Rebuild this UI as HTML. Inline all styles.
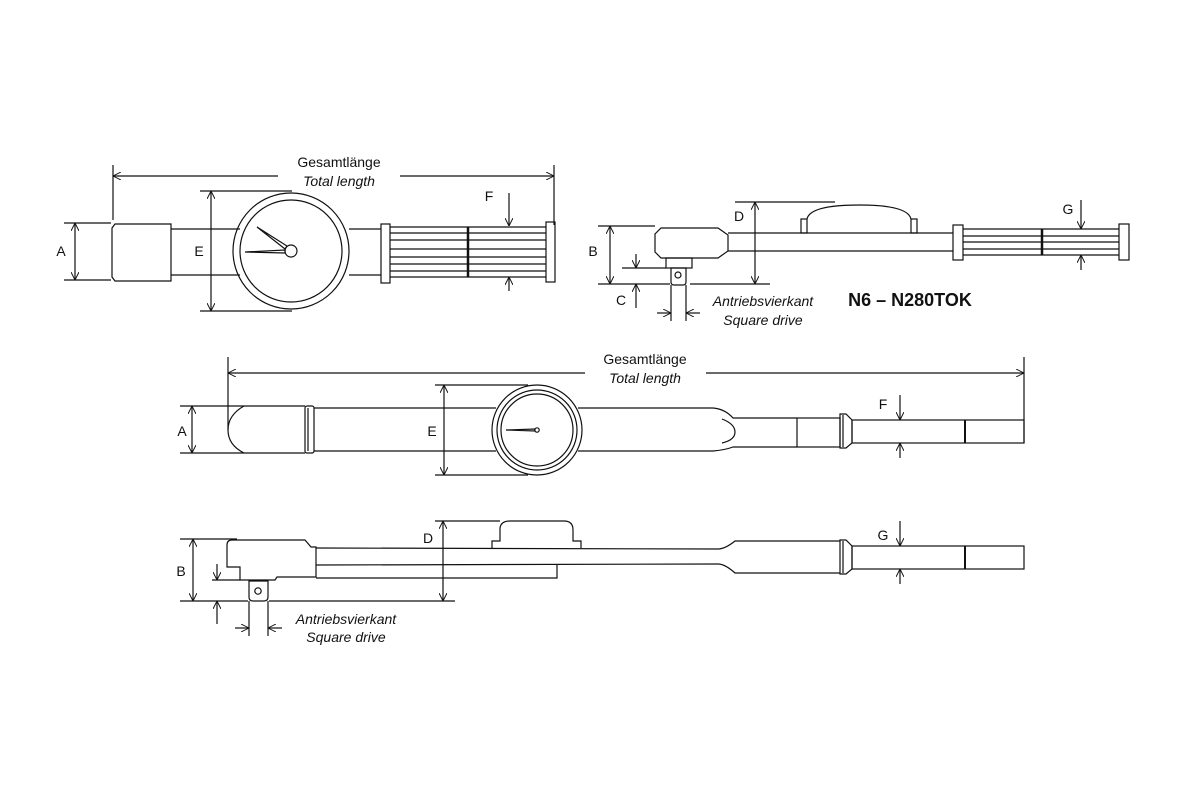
<!DOCTYPE html>
<html><head><meta charset="utf-8"><style>
html,body{margin:0;padding:0;background:#fff;width:1200px;height:800px;overflow:hidden}
svg{display:block}
text{font-family:"Liberation Sans","DejaVu Sans",sans-serif;font-size:14px;fill:#111}
.i{font-style:italic}
</style></head><body>
<svg width="1200" height="800" viewBox="0 0 1200 800" xmlns="http://www.w3.org/2000/svg">
<defs>
<marker id="a" viewBox="0 0 10 10" refX="10" refY="5" markerWidth="8" markerHeight="8" orient="auto-start-reverse" markerUnits="userSpaceOnUse">
<path d="M0,0 L10,5 L0,10" fill="none" stroke="#111" stroke-width="1.2"/></marker>
</defs>
<g fill="none" stroke="#111" stroke-width="1.2">
<!-- ===== Diagram 1 ===== -->
<line x1="113" y1="165" x2="113" y2="220"/>
<line x1="554" y1="165" x2="554" y2="225"/>
<line x1="113" y1="176" x2="278" y2="176" marker-start="url(#a)"/>
<line x1="400" y1="176" x2="554" y2="176" marker-end="url(#a)"/>
<line x1="64" y1="223" x2="111" y2="223"/><line x1="64" y1="280" x2="111" y2="280"/>
<line x1="75" y1="223" x2="75" y2="280" marker-start="url(#a)" marker-end="url(#a)"/>
<path d="M115,224 L171,224 L171,281 L115,281 L112,277 L112,228 Z"/>
<line x1="171" y1="229" x2="240" y2="229"/><line x1="171" y1="275" x2="240" y2="275"/>
<line x1="349" y1="229" x2="381" y2="229"/><line x1="349" y1="275" x2="381" y2="275"/>
<circle cx="291" cy="251" r="58"/><circle cx="291" cy="251" r="51"/>
<circle cx="291" cy="251" r="6"/>
<path d="M257,227 L287,246 L285,249 Z"/>
<path d="M245,252 L285,250 L285,253 Z"/>
<line x1="200" y1="191" x2="292" y2="191"/><line x1="200" y1="311" x2="292" y2="311"/>
<line x1="211" y1="191" x2="211" y2="311" marker-start="url(#a)" marker-end="url(#a)"/>
<rect x="381" y="224" width="9" height="59"/><rect x="546" y="222" width="9" height="60"/>
<g>
<line x1="390" y1="227" x2="546" y2="227"/><line x1="390" y1="233" x2="546" y2="233"/>
<line x1="390" y1="240" x2="546" y2="240"/><line x1="390" y1="249" x2="546" y2="249"/>
<line x1="390" y1="257" x2="546" y2="257"/><line x1="390" y1="264" x2="546" y2="264"/>
<line x1="390" y1="271" x2="546" y2="271"/><line x1="390" y1="277" x2="546" y2="277"/>
</g>
<line x1="468" y1="227" x2="468" y2="277" stroke-width="2.5"/>
<line x1="509" y1="193" x2="509" y2="226" marker-end="url(#a)"/>
<line x1="509" y1="291" x2="509" y2="277" marker-end="url(#a)"/>

<!-- ===== Diagram 2 ===== -->
<path d="M661,228 L718,228 L728,235 L728,251 L718,258 L661,258 L655,252 L655,234 Z"/>
<rect x="666" y="258" width="26" height="10"/>
<path d="M671,268 L686,268 L686,282 Q686,285 683,285 L674,285 Q671,285 671,282 Z"/>
<circle cx="678" cy="275" r="3"/>
<line x1="728" y1="233" x2="953" y2="233"/><line x1="728" y1="251" x2="953" y2="251"/>
<rect x="801" y="219" width="6" height="14"/><rect x="911" y="219" width="6" height="14"/>
<path d="M807,219 Q810,205 859,205 Q908,205 911,219"/>
<rect x="953" y="225" width="10" height="35"/><rect x="1119" y="224" width="10" height="36"/>
<line x1="963" y1="229" x2="1119" y2="229"/><line x1="963" y1="236" x2="1119" y2="236"/>
<line x1="963" y1="242" x2="1119" y2="242"/><line x1="963" y1="249" x2="1119" y2="249"/>
<line x1="963" y1="255" x2="1119" y2="255"/>
<line x1="1042" y1="229" x2="1042" y2="255" stroke-width="2.5"/>
<line x1="1081" y1="200" x2="1081" y2="229" marker-end="url(#a)"/>
<line x1="1081" y1="270" x2="1081" y2="255" marker-end="url(#a)"/>
<line x1="598" y1="226" x2="655" y2="226"/><line x1="598" y1="284" x2="670" y2="284"/>
<line x1="690" y1="284" x2="770" y2="284"/>
<line x1="610" y1="226" x2="610" y2="284" marker-start="url(#a)" marker-end="url(#a)"/>
<line x1="735" y1="202" x2="835" y2="202"/>
<line x1="755" y1="202" x2="755" y2="284" marker-start="url(#a)" marker-end="url(#a)"/>
<line x1="622" y1="268" x2="666" y2="268"/>
<line x1="636" y1="254" x2="636" y2="268" marker-end="url(#a)"/>
<line x1="636" y1="308" x2="636" y2="284" marker-end="url(#a)"/>
<line x1="671" y1="285" x2="671" y2="321"/><line x1="686" y1="285" x2="686" y2="321"/>
<line x1="657" y1="313" x2="671" y2="313" marker-end="url(#a)"/>
<line x1="700" y1="313" x2="686" y2="313" marker-end="url(#a)"/>

<!-- ===== Diagram 3 ===== -->
<line x1="228" y1="357" x2="228" y2="430"/>
<line x1="1024" y1="357" x2="1024" y2="443"/>
<line x1="228" y1="373" x2="585" y2="373" marker-start="url(#a)"/>
<line x1="706" y1="373" x2="1024" y2="373" marker-end="url(#a)"/>
<line x1="180" y1="406" x2="240" y2="406"/><line x1="180" y1="453" x2="240" y2="453"/>
<line x1="192" y1="406" x2="192" y2="453" marker-start="url(#a)" marker-end="url(#a)"/>
<path d="M244,406 Q228,415 228,430 Q228,445 244,453"/>
<line x1="240" y1="406" x2="305" y2="406"/><line x1="240" y1="453" x2="305" y2="453"/>
<rect x="305" y="406" width="9" height="47" rx="2"/>
<line x1="308" y1="408" x2="308" y2="451"/>
<line x1="314" y1="408" x2="496" y2="408"/><line x1="314" y1="451" x2="496" y2="451"/>
<line x1="578" y1="408" x2="713" y2="408"/><line x1="578" y1="451" x2="713" y2="451"/>
<path d="M713,408 Q725,409 733,418 L797,418"/>
<path d="M713,451 Q725,450 733,447 L797,447"/>
<path d="M722,419 Q735,424 735,432 Q735,440 722,443"/>
<rect x="797" y="418" width="43" height="29"/>
<path d="M840,414 L846,414 L852,420 L852,443 L846,448 L840,448 Z"/>
<line x1="843" y1="415" x2="843" y2="447"/>
<rect x="852" y="420" width="172" height="23"/>
<line x1="965" y1="420" x2="965" y2="443" stroke-width="2"/>
<circle cx="537" cy="430" r="45"/><circle cx="537" cy="430" r="40"/><circle cx="537" cy="430" r="36"/>
<path d="M506,430 L535,429 L535,431 Z"/>
<circle cx="537" cy="430" r="2.2"/>
<line x1="435" y1="385" x2="528" y2="385"/><line x1="435" y1="475" x2="528" y2="475"/>
<line x1="444" y1="385" x2="444" y2="475" marker-start="url(#a)" marker-end="url(#a)"/>
<line x1="900" y1="395" x2="900" y2="420" marker-end="url(#a)"/>
<line x1="900" y1="458" x2="900" y2="443" marker-end="url(#a)"/>

<!-- ===== Diagram 4 ===== -->
<path d="M232,540 L305,540 L311,547 L316,547 L316,577 L277,577 L275,580 L240,580 L240,567 L227,567 L227,545 Q227,540 232,540 Z"/>
<path d="M249,581 L268,581 L268,597 Q268,601 264,601 L253,601 Q249,601 249,597 Z"/>
<circle cx="258" cy="591" r="3.2"/>
<path d="M316,548 L718,549 Q725,549 735,541 L840,541"/>
<path d="M316,565 L718,564 Q725,564 735,573 L840,573"/>
<path d="M316,578 L557,578 L557,565"/>
<path d="M492,548 L492,541 L500,541 L500,528 Q501,521 510,521 L564,521 Q573,521 573,530 L573,541 L581,541 L581,548"/>
<path d="M840,540 L846,540 L852,546 L852,569 L846,574 L840,574 Z"/>
<line x1="843" y1="541" x2="843" y2="573"/>
<rect x="852" y="546" width="172" height="23"/>
<line x1="965" y1="546" x2="965" y2="569" stroke-width="2"/>
<line x1="180" y1="539" x2="237" y2="539"/><line x1="180" y1="601" x2="248" y2="601"/>
<line x1="269" y1="601" x2="455" y2="601"/>
<line x1="193" y1="539" x2="193" y2="601" marker-start="url(#a)" marker-end="url(#a)"/>
<line x1="435" y1="521" x2="500" y2="521"/>
<line x1="443" y1="521" x2="443" y2="601" marker-start="url(#a)" marker-end="url(#a)"/>
<line x1="212" y1="580" x2="240" y2="580"/>
<line x1="217" y1="564" x2="217" y2="580" marker-end="url(#a)"/>
<line x1="217" y1="624" x2="217" y2="601" marker-end="url(#a)"/>
<line x1="249" y1="601" x2="249" y2="636"/><line x1="268" y1="601" x2="268" y2="636"/>
<line x1="235" y1="628" x2="249" y2="628" marker-end="url(#a)"/>
<line x1="282" y1="628" x2="268" y2="628" marker-end="url(#a)"/>
<line x1="900" y1="521" x2="900" y2="546" marker-end="url(#a)"/>
<line x1="900" y1="584" x2="900" y2="569" marker-end="url(#a)"/>
</g>
<g>
<text x="339" y="167" text-anchor="middle">Gesamtlänge</text>
<text x="339" y="186" text-anchor="middle" class="i">Total length</text>
<text x="61" y="256" text-anchor="middle">A</text>
<text x="199" y="256" text-anchor="middle">E</text>
<text x="489" y="201" text-anchor="middle">F</text>
<text x="593" y="256" text-anchor="middle">B</text>
<text x="739" y="221" text-anchor="middle">D</text>
<text x="621" y="305" text-anchor="middle">C</text>
<text x="1068" y="214" text-anchor="middle">G</text>
<text x="763" y="306" text-anchor="middle" class="i">Antriebsvierkant</text>
<text x="763" y="325" text-anchor="middle" class="i">Square drive</text>
<text x="910" y="306" text-anchor="middle" style="font-weight:bold;font-size:18px">N6 – N280TOK</text>
<text x="645" y="364" text-anchor="middle">Gesamtlänge</text>
<text x="645" y="383" text-anchor="middle" class="i">Total length</text>
<text x="182" y="436" text-anchor="middle">A</text>
<text x="432" y="436" text-anchor="middle">E</text>
<text x="883" y="409" text-anchor="middle">F</text>
<text x="181" y="576" text-anchor="middle">B</text>
<text x="428" y="543" text-anchor="middle">D</text>
<text x="883" y="540" text-anchor="middle">G</text>
<text x="346" y="624" text-anchor="middle" class="i">Antriebsvierkant</text>
<text x="346" y="642" text-anchor="middle" class="i">Square drive</text>
</g>
</svg>
</body></html>
